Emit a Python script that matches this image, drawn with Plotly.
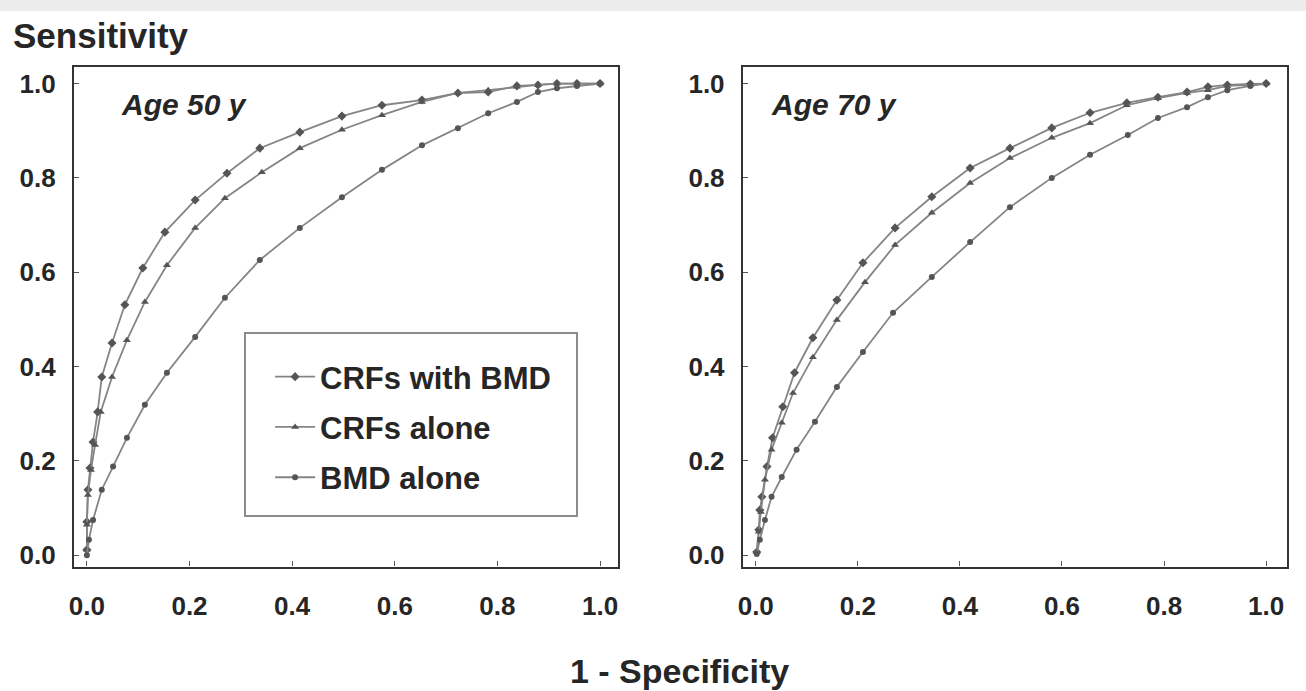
import plotly.graph_objects as go

# ROC curves, women aged 50 and 70: 1 - specificity (x) vs sensitivity (y)
series_names = ["CRFs with BMD", "CRFs alone", "BMD alone"]

age50_crf_bmd_x = [0, 0, 0.002, 0.006, 0.012, 0.021, 0.029, 0.049, 0.074, 0.109, 0.152, 0.211, 0.273,
                   0.337, 0.415, 0.497, 0.575, 0.653, 0.723, 0.782, 0.838, 0.879, 0.916, 0.955, 1.0]
age50_crf_bmd_y = [0.012, 0.071, 0.139, 0.185, 0.24, 0.304, 0.378, 0.45, 0.531, 0.609, 0.685, 0.753, 0.81,
                   0.863, 0.897, 0.931, 0.954, 0.965, 0.98, 0.982, 0.995, 0.997, 1.0, 1.0, 1.0]

age50_crf_x = [0, 0, 0.002, 0.008, 0.016, 0.027, 0.049, 0.078, 0.113, 0.156, 0.211, 0.269, 0.341,
               0.415, 0.497, 0.575, 0.653, 0.723, 0.782, 0.838, 0.879, 0.916, 0.955, 1.0]
age50_crf_y = [0.012, 0.065, 0.128, 0.181, 0.234, 0.304, 0.378, 0.456, 0.537, 0.615, 0.694, 0.757, 0.812,
               0.863, 0.902, 0.933, 0.961, 0.98, 0.986, 0.993, 0.997, 1.0, 1.0, 1.0]

age50_bmd_x = [0, 0.004, 0.012, 0.029, 0.051, 0.078, 0.113, 0.156, 0.211, 0.269, 0.337, 0.415, 0.497,
               0.575, 0.653, 0.723, 0.782, 0.838, 0.879, 0.916, 0.955, 1.0]
age50_bmd_y = [0.0, 0.033, 0.075, 0.139, 0.188, 0.249, 0.319, 0.387, 0.463, 0.546, 0.626, 0.694, 0.759,
               0.817, 0.869, 0.905, 0.937, 0.961, 0.982, 0.99, 0.995, 1.0]

age70_crf_bmd_x = [0.002, 0.006, 0.008, 0.012, 0.022, 0.033, 0.053, 0.076, 0.112, 0.159, 0.21, 0.273,
                   0.345, 0.42, 0.498, 0.58, 0.655, 0.727, 0.788, 0.845, 0.886, 0.924, 0.969, 1.0]
age70_crf_bmd_y = [0.007, 0.054, 0.096, 0.124, 0.188, 0.249, 0.315, 0.387, 0.461, 0.541, 0.62, 0.694,
                   0.76, 0.821, 0.863, 0.906, 0.938, 0.959, 0.971, 0.982, 0.993, 0.997, 0.999, 1.0]

age70_crf_x = [0.002, 0.006, 0.01, 0.018, 0.031, 0.051, 0.073, 0.112, 0.159, 0.214, 0.273, 0.345,
               0.42, 0.498, 0.58, 0.655, 0.727, 0.788, 0.845, 0.886, 0.924, 0.969, 1.0]
age70_crf_y = [0.007, 0.05, 0.092, 0.16, 0.224, 0.281, 0.344, 0.42, 0.499, 0.579, 0.658, 0.726,
               0.789, 0.842, 0.885, 0.916, 0.954, 0.969, 0.98, 0.986, 0.995, 0.997, 1.0]

age70_bmd_x = [0.002, 0.008, 0.018, 0.031, 0.051, 0.08, 0.116, 0.159, 0.21, 0.269, 0.345, 0.42,
               0.498, 0.58, 0.655, 0.729, 0.788, 0.845, 0.886, 0.924, 0.969, 1.0]
age70_bmd_y = [0.003, 0.033, 0.075, 0.124, 0.166, 0.224, 0.283, 0.357, 0.431, 0.514, 0.59, 0.664,
               0.738, 0.8, 0.849, 0.891, 0.927, 0.95, 0.971, 0.986, 0.995, 1.0]

tick_vals = [0.0, 0.2, 0.4, 0.6, 0.8, 1.0]
tick_text = ["0.0", "0.2", "0.4", "0.6", "0.8", "1.0"]

FONT = "Liberation Sans, Arial, sans-serif"
INK = "#262626"
LINE = "#858585"
MARK = "#555555"

styles = [
    dict(symbol="diamond", size=7),
    dict(symbol="triangle-up", size=7),
    dict(symbol="circle", size=6),
]

panels = [
    ("x", "y", [(age50_crf_bmd_x, age50_crf_bmd_y), (age50_crf_x, age50_crf_y), (age50_bmd_x, age50_bmd_y)]),
    ("x2", "y2", [(age70_crf_bmd_x, age70_crf_bmd_y), (age70_crf_x, age70_crf_y), (age70_bmd_x, age70_bmd_y)]),
]

fig = go.Figure()
for p, (xa, ya, curves) in enumerate(panels):
    for i, (xs, ys) in enumerate(curves):
        fig.add_trace(go.Scatter(
            x=xs, y=ys, mode="lines+markers", xaxis=xa, yaxis=ya,
            name=series_names[i], legendgroup=series_names[i], showlegend=(p == 0),
            line=dict(color=LINE, width=1.8),
            marker=dict(color=MARK, line=dict(color=MARK, width=0), **styles[i]),
        ))

axis_common = dict(
    showline=True, mirror=True, linecolor="#333333", linewidth=2.4,
    ticks="inside", ticklen=5, tickwidth=1, tickcolor="#555555",
    showgrid=False, zeroline=False, automargin=False,
    tickvals=tick_vals, ticktext=tick_text,
    tickfont=dict(family=FONT, size=26, color=INK, weight="bold"),
)

y_dom = [0.180, 0.903]
fig.update_layout(
    width=1306, height=691,
    margin=dict(l=0, r=0, t=0, b=0, autoexpand=False),
    paper_bgcolor="white", plot_bgcolor="white",
    xaxis=dict(domain=[0.0567, 0.4732], range=[-0.025, 1.035], ticklabelstandoff=15, anchor="y", **axis_common),
    yaxis=dict(domain=y_dom, range=[-0.024, 1.035], ticklabelstandoff=11, anchor="x", **axis_common),
    xaxis2=dict(domain=[0.5689, 0.9855], range=[-0.025, 1.041], ticklabelstandoff=15, anchor="y2", **axis_common),
    yaxis2=dict(domain=y_dom, range=[-0.024, 1.035], ticklabelstandoff=11, anchor="x2", **axis_common),
    showlegend=True,
    legend=dict(
        x=0.2068, y=0.4935, xanchor="left", yanchor="top",
        bgcolor="rgba(0,0,0,0)", borderwidth=0,
        font=dict(family=FONT, size=31, color=INK, weight="bold"),
        tracegroupgap=7, itemwidth=40,
    ),
    shapes=[
        dict(type="rect", xref="paper", yref="paper", x0=0.1876, x1=0.4418, y0=0.2533, y1=0.5181,
             line=dict(color="#8c8c8c", width=2), fillcolor="rgba(0,0,0,0)", layer="below"),
        dict(type="rect", xref="paper", yref="paper", x0=0, x1=1, y0=0.984, y1=1,
             line=dict(width=0), fillcolor="#ececec", layer="below"),
    ],
    annotations=[
        dict(text="Sensitivity", xref="paper", yref="paper", x=0.0085, y=0.949, xanchor="left", yanchor="middle",
             showarrow=False, font=dict(family=FONT, size=35, color=INK, weight="bold")),
        dict(text="1 - Specificity", xref="paper", yref="paper", x=0.52, y=0.029, xanchor="center", yanchor="middle",
             showarrow=False, font=dict(family=FONT, size=34, color=INK, weight="bold")),
        dict(text="<i>Age 50 y</i>", xref="paper", yref="paper", x=0.0915, y=0.849, xanchor="left", yanchor="middle",
             showarrow=False, font=dict(family=FONT, size=30, color=INK, weight="bold")),
        dict(text="<i>Age 70 y</i>", xref="paper", yref="paper", x=0.589, y=0.849, xanchor="left", yanchor="middle",
             showarrow=False, font=dict(family=FONT, size=30, color=INK, weight="bold")),
    ],
)

fig.write_html("out.html")
